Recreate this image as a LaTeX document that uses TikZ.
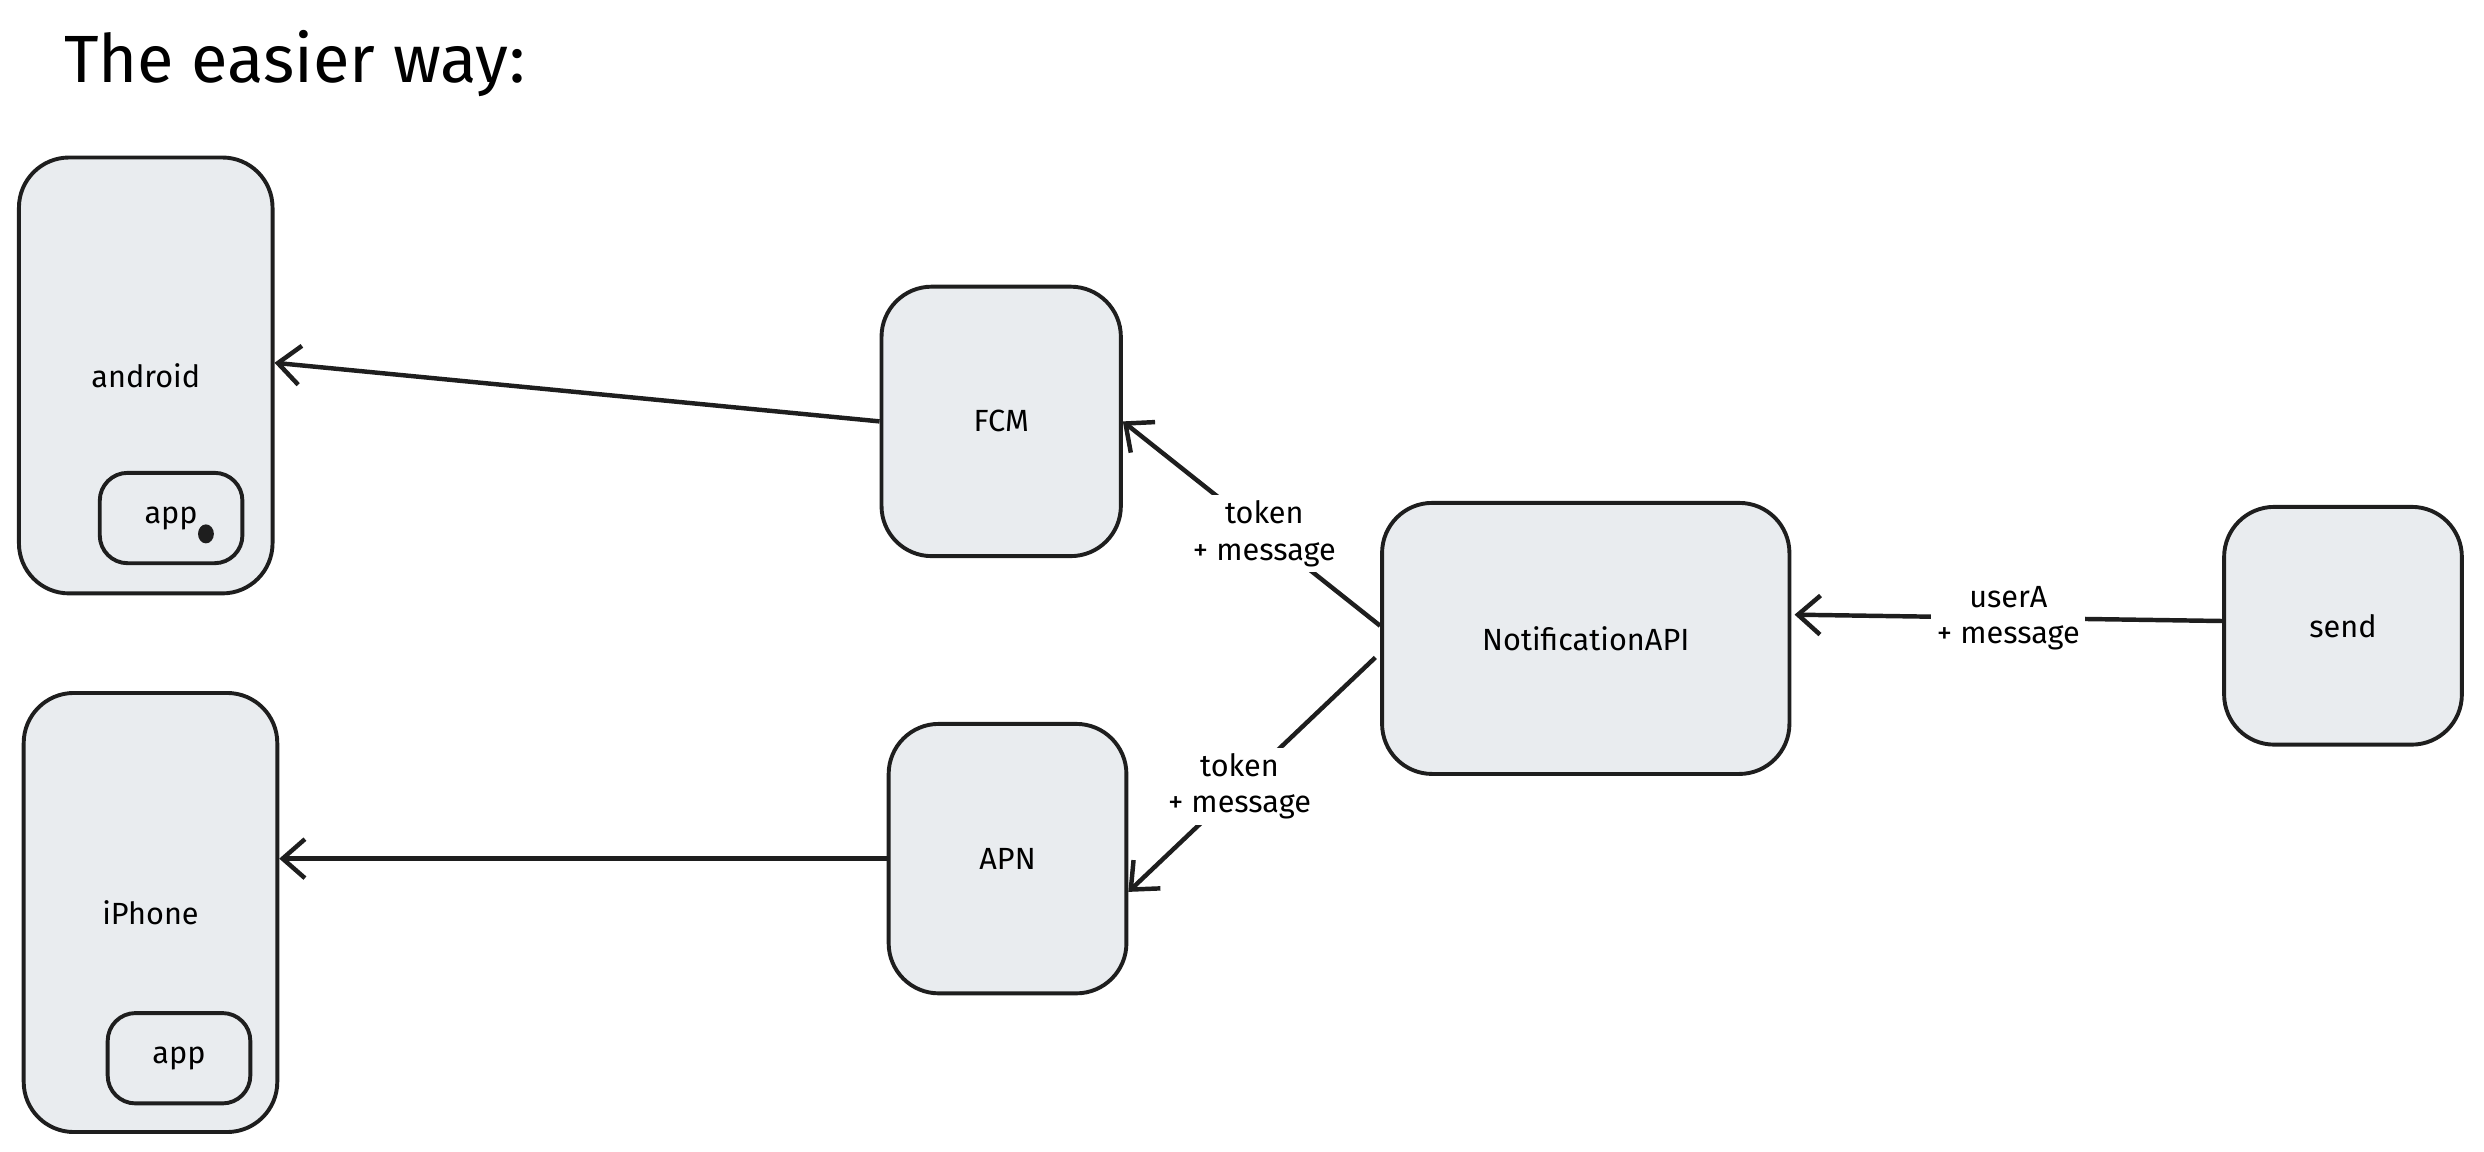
\documentclass[tikz,border=0pt]{standalone}
\usepackage{fontspec}
\setmainfont{Fira Sans}
\usetikzlibrary{positioning,calc,arrows.meta}
\definecolor{boxfill}{HTML}{E9ECEF}
\definecolor{ink}{HTML}{1E1E1E}
\tikzset{
  box/.style={draw=ink, fill=boxfill, line width=0.7pt, rounded corners=9pt, font=\fontsize{5.5}{6}\selectfont},
  link/.style={draw=ink, line width=0.8pt, -{Straight Barb[length=4pt,width=7pt]}},
  lbl/.style={fill=white, inner sep=1pt, align=center, font=\fontsize{5.5}{6.5}\selectfont}
}
\begin{document}
\begin{tikzpicture}[x=0.01cm, y=-0.01cm]
\useasboundingbox (0,0) rectangle (1568,727);

% title
\node[anchor=west, font=\fontsize{12}{14}\selectfont] (title) at (28,40) {The easier way:};

% phones
\node[box, minimum width=1.6cm, minimum height=2.75cm] (android) at (92,237) {android};
\node[box, rounded corners=5pt, minimum width=0.9cm, minimum height=0.57cm] (aapp) at (108,327) {app};
\fill[ink] (130,337) ellipse [x radius=5, y radius=6];
\node[box, minimum width=1.6cm, minimum height=2.77cm] (iphone) at (95,576) {iPhone};
\node[box, rounded corners=5pt, minimum width=0.9cm, minimum height=0.57cm] (iapp) at (113,668) {app};

% services
\node[box, minimum width=1.51cm, minimum height=1.7cm] (fcm) at (632,266) {FCM};
\node[box, minimum width=1.5cm, minimum height=1.7cm] (apn) at (636,542) {APN};
\node[box, minimum width=2.57cm, minimum height=1.71cm] (api) at (1001,403) {NotificationAPI};
\node[box, minimum width=1.5cm, minimum height=1.5cm] (send) at (1479,395) {send};

% connectors
\draw[link] (fcm.west) -- ($(android.east)+(0,-8)$);
\draw[link] (apn.west) -- (iphone.east |- apn.west);
\draw[link] ($(api.west)+(0,-8)$) -- node[lbl, pos=0.45] (l1) {token\\+ message} (fcm.east);
\draw[link] ($(api.west)+(-3,12)$) -- node[lbl, pos=0.55] (l2) {token\\+ message} ($(apn.east)+(0,21)$);
\draw[link] ($(send.west)+(0,-3)$) -- node[lbl, pos=0.5] (l3) {userA\\+ message} ($(api.east)+(2,-15)$);

\end{tikzpicture}
\end{document}
